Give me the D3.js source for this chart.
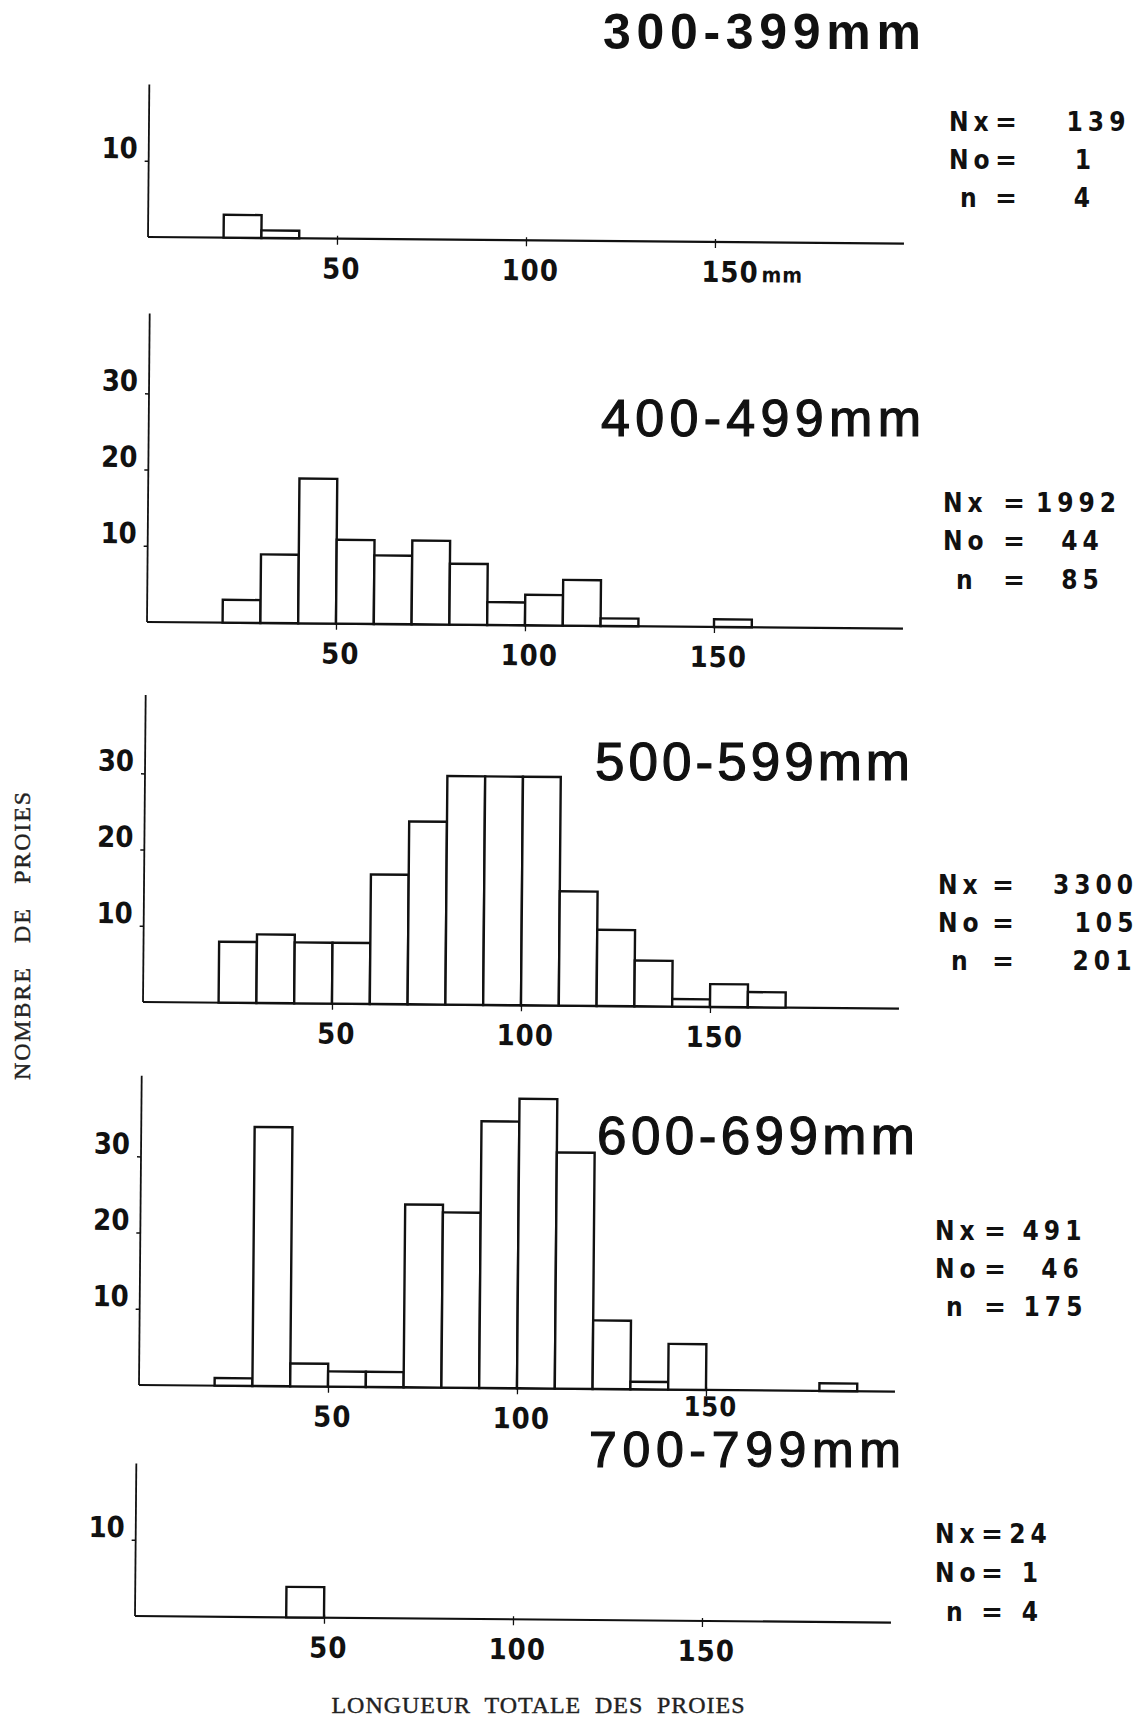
<!DOCTYPE html>
<html><head><meta charset="utf-8">
<script src="https://cdn.jsdelivr.net/npm/d3@7"></script>
<style>body{margin:0;background:#fff}</style>
</head><body>
<svg id="c" width="1138" height="1720" xmlns="http://www.w3.org/2000/svg"></svg>
<script>
// ---------- DATA ----------
const binStarts = [0,10,20,30,40,50,60,70,80,90,100,110,120,130,140,150,160,170,180,190];
const titles = ["300-399mm","400-499mm","500-599mm","600-699mm","700-799mm"];
const counts300 = [0,0,3,1,0,0,0,0,0,0,0,0,0,0,0,0,0,0,0,0];
const counts400 = [0,0,3,9,19,11,9,11,8,3,4,6,1,0,0,1,0,0,0,0];
const counts500 = [0,0,8,9,8,8,17,24,30,30,30,15,10,6,1,3,2,0,0,0];
const counts600 = [0,0,1,34,3,2,2,24,23,35,38,31,9,1,6,0,0,0,1,0];
const counts700 = [0,0,0,0,4,0,0,0,0,0,0,0,0,0,0,0,0,0,0,0];
const nxValues = ["139","1992","3300","491","24"];
const noValues = ["1","44","105","46","1"];
const nValues  = ["4","85","201","175","4"];
const statLabels = ["Nx","No","n"];
const xTicks = [50,100,150];
const yTicksSmall = [10];
const yTicksLarge = [10,20,30];
const yAxisTitle = "NOMBRE   DE   PROIES";
const xAxisTitle = "LONGUEUR  TOTALE  DES  PROIES";
const allCounts = [counts300,counts400,counts500,counts600,counts700];

// ---------- LAYOUT ----------
const PX_MM = 3.78, PX_UNIT = 7.62, XMAX = 200;
const layout = [
 {x0:148, base:237, ymax:20,  ticks:yTicksSmall, t:{x:603,y:49,len:318,size:50,w:"bold"},
  rows:[131,169,207], labX:[949,949,960], eqX:995, valX:[1096,1083,1082]},
 {x0:147, base:622, ymax:40.5,ticks:yTicksLarge, t:{x:601,y:436,len:320,size:52,w:"normal"},
  rows:[512,550,589], labX:[943,943,956], eqX:1003, valX:[1076,1080,1080]},
 {x0:143, base:1002,ymax:40.3,ticks:yTicksLarge, t:{x:595,y:780,len:315,size:53,w:"normal"},
  rows:[894,932,970], labX:[938,938,951], eqX:992, valX:[1093,1104,1102]},
 {x0:139, base:1385,ymax:40.6,ticks:yTicksLarge, t:{x:597,y:1154,len:318,size:53,w:"normal"},
  rows:[1240,1278,1316], labX:[935,935,946], eqX:984, valX:[1052,1060,1053]},
 {x0:135, base:1616,ymax:20,  ticks:yTicksSmall, t:{x:589,y:1467,len:312,size:50,w:"normal"},
  rows:[1543,1582,1621], labX:[935,935,946], eqX:981, valX:[1028,1030,1030]}
];
const condensed = "'Liberation Sans Narrow','DejaVu Sans Condensed','Liberation Sans',sans-serif";
const typewriter = "'Liberation Serif','DejaVu Serif',serif";

const svg = d3.select("#c");

layout.forEach((L,i)=>{
  const x = d3.scaleLinear().domain([0,XMAX]).range([L.x0, L.x0+XMAX*PX_MM]);
  const y = d3.scaleLinear().domain([0,L.ymax]).range([L.base, L.base - L.ymax*PX_UNIT]);
  const g = svg.append("g").attr("transform",`rotate(0.5,${L.x0},${L.base})`);

  // y axis
  const ya = g.append("g").attr("transform",`translate(${L.x0},0)`)
    .call(d3.axisLeft(y).tickValues(L.ticks).tickSize(4).tickFormat(d3.format("d")));
  ya.select(".domain").attr("stroke","#111").attr("stroke-width",1.8).attr("d",`M0,${y(L.ymax)}V${y(0)}`);
  ya.selectAll(".tick line").attr("stroke","#111").attr("stroke-width",1.5);
  ya.selectAll(".tick text").attr("x",-11).attr("dy",null).attr("y",-3)
    .attr("font-family",condensed).attr("font-weight","bold").attr("font-size",29).attr("fill","#111");

  // x axis
  const xa = g.append("g").attr("transform",`translate(0,${L.base})`)
    .call(d3.axisBottom(x).tickValues(xTicks).tickSize(6).tickFormat(d3.format("d")));
  xa.select(".domain").attr("stroke","#111").attr("stroke-width",2.2).attr("d",`M${x(0)},0H${x(XMAX)}`);
  xa.selectAll(".tick line").attr("stroke","#111").attr("stroke-width",1.3).attr("y1",-3);
  xa.selectAll(".tick text").attr("y",40).attr("dy",null).attr("x",4)
    .attr("font-family",condensed).attr("font-weight","bold").attr("font-size",29).attr("fill","#111")
    .attr("letter-spacing",1);
  if(i===0){
    xa.selectAll(".tick text").filter(d=>d===150).text(null).attr("text-anchor","start").attr("x",-14)
      .call(t=>{t.append("tspan").text("150");t.append("tspan").attr("font-size",21).attr("dx",3).text("mm");});
  }
  if(i===3){
    xa.selectAll(".tick text").filter(d=>d===150).attr("y",26).attr("font-size",27);
  }

  // bars
  const data = binStarts.map((b,k)=>({b, v:allCounts[i][k]})).filter(d=>d.v>0);
  g.selectAll("rect.bar").data(data).join("rect").attr("class","bar")
    .attr("x",d=>x(d.b)).attr("width",d=>x(d.b+10)-x(d.b))
    .attr("y",d=>y(d.v)).attr("height",d=>y(0)-y(d.v))
    .attr("fill","#fff").attr("stroke","#111").attr("stroke-width",2.4);

  // title
  svg.append("text").attr("x",L.t.x).attr("y",L.t.y).attr("font-family","'Liberation Sans',Arial,sans-serif")
    .attr("font-size",L.t.size).attr("font-weight",L.t.w).attr("fill","#111")
    .attr("stroke",L.t.w==="bold"?"none":"#111").attr("stroke-width",1.2)
    .attr("textLength",L.t.len).attr("lengthAdjust","spacing").text(titles[i]);

  // stats
  const vals = [nxValues[i],noValues[i],nValues[i]];
  statLabels.forEach((lab,r)=>{
    const yy = L.rows[r];
    svg.append("text").attr("x",L.labX[r]).attr("y",yy).attr("font-family",condensed).attr("font-weight","bold")
      .attr("font-size",26).attr("letter-spacing",5).attr("fill","#111").text(lab);
    svg.append("text").attr("x",L.eqX).attr("y",yy).attr("font-family",condensed).attr("font-weight","bold")
      .attr("font-size",26).attr("fill","#111").attr("textLength",22).attr("lengthAdjust","spacingAndGlyphs").text("=");
    svg.append("text").attr("x",L.valX[r]+2.5).attr("y",yy).attr("text-anchor","middle").attr("font-family",condensed)
      .attr("font-weight","bold").attr("font-size",26).attr("letter-spacing",5).attr("fill","#111").text(vals[r]);
  });
});

// axis titles
svg.append("text").attr("transform","translate(30,936) rotate(-90)").attr("text-anchor","middle")
  .attr("font-family",typewriter).attr("font-size",24).attr("fill","#222").attr("stroke","#222").attr("stroke-width",0.4)
  .attr("textLength",288).attr("lengthAdjust","spacing")
  .style("white-space","pre").text(yAxisTitle);
svg.append("text").attr("x",538).attr("y",1713).attr("text-anchor","middle")
  .attr("font-family",typewriter).attr("font-size",24).attr("fill","#222").attr("stroke","#222").attr("stroke-width",0.4)
  .attr("textLength",413).attr("lengthAdjust","spacing")
  .style("white-space","pre").text(xAxisTitle);
</script>
</body></html>
